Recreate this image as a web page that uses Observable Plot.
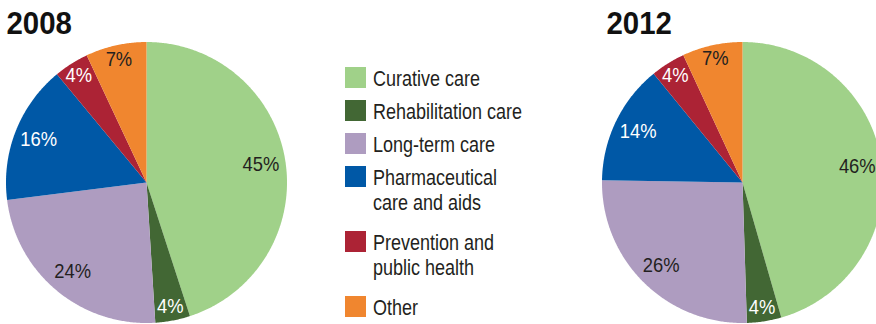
<!DOCTYPE html>
<html>
<head>
<meta charset="utf-8">
<script src="https://cdn.jsdelivr.net/npm/d3@7"></script>
<script src="https://cdn.jsdelivr.net/npm/@observablehq/plot@0.6"></script>
<style>
  html, body { margin: 0; padding: 0; background: #fff; overflow: hidden; }
  #chart { width: 876px; height: 324px; }
</style>
</head>
<body>
<div id="chart"></div>
<script>
// ---- data ----
const categories = ["Curative care", "Rehabilitation care", "Long-term care", "Pharmaceutical care and aids", "Prevention and public health", "Other"];
const legendLabels = ["Curative care", "Rehabilitation care", "Long-term care", "Pharmaceutical\ncare and aids", "Prevention and\npublic health", "Other"];
const years = ["2008", "2012"];
const shares2008 = [45, 4, 24, 16, 4, 7];
const shares2012 = [46, 4, 26, 14, 4, 7];

// ---- styles / layout ----
const colors = ["#a0d189", "#426734", "#ae9cc0", "#0058a6", "#ac2335", "#f0862f"];
const labelColors = ["#231f20", "#ffffff", "#231f20", "#ffffff", "#ffffff", "#231f20"];
const FONT = "'Liberation Sans', Arial, sans-serif";
const W = 876, H = 324;
const R = 140.5;
const pieLayout = [{cx: 146, cy: 182, titleX: 6}, {cx: 742, cy: 182, titleX: 606}];

const pie = d3.pie().sort(null).value(d => d.value);
const slicePts = [];
const labels = [];
const series = [shares2008, shares2012];
series.forEach((vals, pi) => {
  const {cx, cy} = pieLayout[pi];
  const arcs = pie(vals.map((v, i) => ({value: v, i})));
  arcs.forEach(a => {
    const key = years[pi] + "|" + categories[a.data.i];
    slicePts.push({x: cx, y: cy, key, cat: categories[a.data.i]});
    const n = Math.max(2, Math.ceil((a.endAngle - a.startAngle) / (Math.PI / 360)));
    for (let k = 0; k <= n; k++) {
      const t = a.startAngle + (a.endAngle - a.startAngle) * k / n;
      slicePts.push({x: cx + R * Math.sin(t), y: cy - R * Math.cos(t), key, cat: categories[a.data.i]});
    }
    const mid = (a.startAngle + a.endAngle) / 2;
    const frac = (a.endAngle - a.startAngle) / (2 * Math.PI);
    const lr = R * (frac >= 0.1 ? 0.825 : 0.9);
    labels.push({
      x: cx + lr * Math.sin(mid),
      y: cy - lr * Math.cos(mid),
      text: a.data.value + "%",
      color: labelColors[a.data.i]
    });
  });
});

// legend layout
const legend = [];
let extra = 0;
legendLabels.forEach((lab, i) => {
  const top = 67 + 33 * i + 32 * extra;
  legend.push({cat: categories[i], label: lab, top});
  extra += lab.split("\n").length - 1;
});

const titles = years.map((y, i) => ({text: y, x: pieLayout[i].titleX}));

const chart = Plot.plot({
  width: W,
  height: H,
  margin: 0,
  style: {fontFamily: FONT, background: "#fff", overflow: "hidden"},
  x: {type: "linear", domain: [0, W], range: [0, W], axis: null},
  y: {type: "linear", domain: [0, H], range: [0, H], axis: null},
  color: {domain: categories, range: colors},
  marks: [
    Plot.line(slicePts, {x: "x", y: "y", z: "key", fill: "cat", stroke: null, curve: "linear"}),
    Plot.text(labels, {x: "x", y: "y", text: "text", fill: "color", fontSize: 20, textAnchor: "middle", lineAnchor: "middle"}),
    Plot.rect(legend, {x1: () => 345, x2: () => 366, y1: "top", y2: d => d.top + 21, fill: "cat"}),
    Plot.text(legend, {x: () => 372.5, y: "top", text: "label", fontSize: 22.5, lineHeight: 1.14, textAnchor: "start", lineAnchor: "top", fill: "#231f20"}),
    Plot.text(titles, {x: "x", y: () => 33.3, text: "text", fontSize: 32, fontWeight: "bold", textAnchor: "start", lineAnchor: "bottom", fill: "#111"})
  ]
});

// condensed typeface look: squeeze glyphs horizontally around each text's anchor
// (each text is positioned by transform="translate(x,y)", so a trailing scale keeps the anchor fixed)
const squeezeByMark = [0.92, 0.8, 0.92]; // pie labels, legend, titles
d3.select(chart).selectAll("g[aria-label='text']").each(function (_, gi) {
  const s = squeezeByMark[gi] ?? 1;
  d3.select(this).selectAll("text").each(function () {
    const t = this.getAttribute("transform") || "";
    this.setAttribute("transform", `${t} scale(${s},1)`.trim());
  });
});

document.getElementById("chart").appendChild(chart);
</script>
</body>
</html>
